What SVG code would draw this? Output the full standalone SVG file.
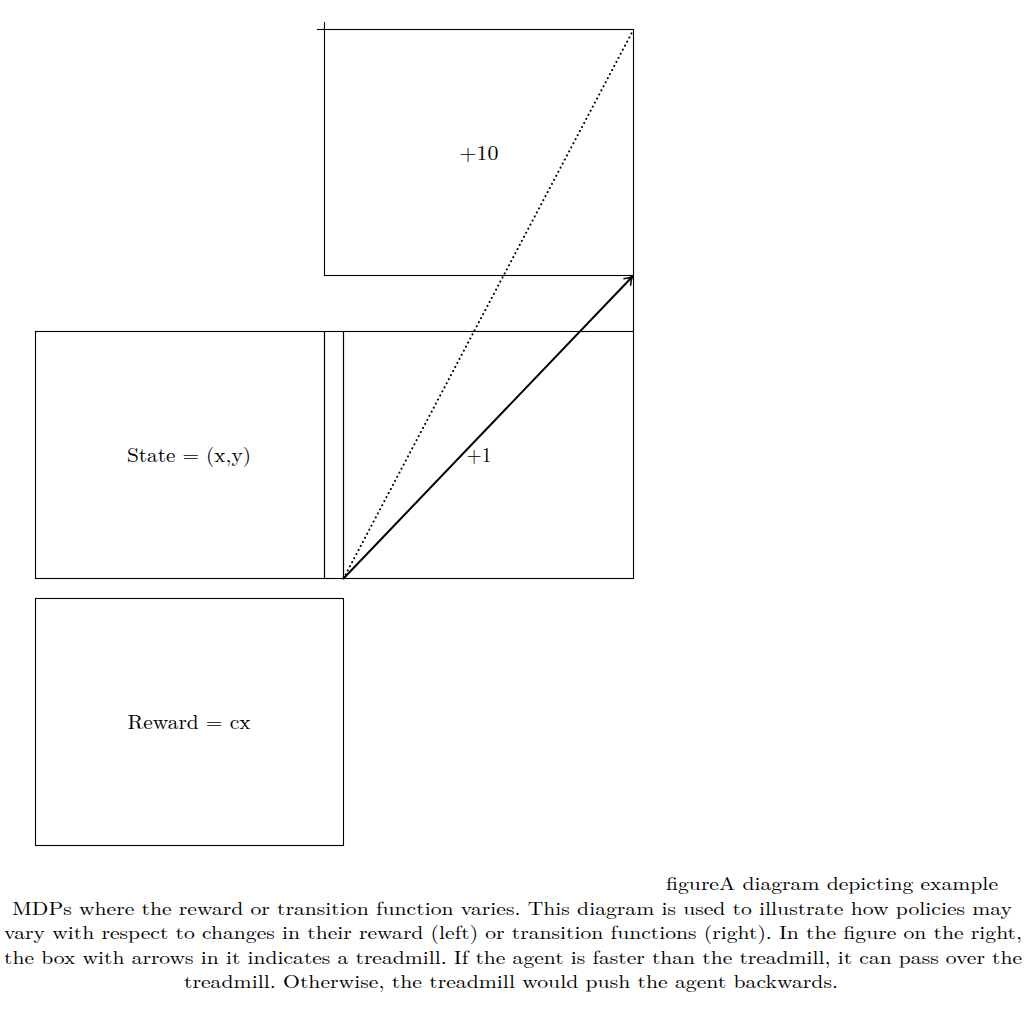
<svg xmlns="http://www.w3.org/2000/svg" width="1024" height="1024" viewBox="0 0 1024 1024">
<defs>
<style>
.box{fill:none;stroke:#000;stroke-width:1.1}
.lbl{font-family:"Latin Modern Roman","Liberation Serif","DejaVu Serif",serif;font-size:20px;fill:#000;text-anchor:middle}
.cap{font-family:"Latin Modern Roman","Liberation Serif","DejaVu Serif",serif;font-size:18.5px;fill:#000}
</style>
<marker id="arr" viewBox="0 0 12 12" refX="10" refY="6" markerWidth="12" markerHeight="12" markerUnits="userSpaceOnUse" orient="auto">
<path d="M2,1 Q6,4.5 10,6 Q6,7.5 2,11" fill="none" stroke="#000" stroke-width="1.5"/>
</marker>
</defs>
<rect width="1024" height="1024" fill="#fff"/>
<g id="goal-box">
<line class="box" x1="317" y1="29.5" x2="324.5" y2="29.5"/>
<line class="box" x1="324.5" y1="22" x2="324.5" y2="29.5"/>
<rect class="box" x="324.5" y="29.5" width="309" height="246"/>
<line class="box" x1="633.5" y1="275.5" x2="633.5" y2="331.5"/>
<text class="lbl" x="479" y="160" textLength="39" lengthAdjust="spacingAndGlyphs">+10</text>
</g>
<g id="state-box">
<rect class="box" x="35.5" y="331.5" width="289" height="247"/>
<text class="lbl" x="189" y="462" textLength="124" lengthAdjust="spacingAndGlyphs">State = (x,y)</text>
</g>
<g id="treadmill">
<rect class="box" x="324.5" y="331.5" width="19" height="247"/>
</g>
<g id="plus-one-box">
<rect class="box" x="343.5" y="331.5" width="290" height="247"/>
<text class="lbl" x="479" y="462" textLength="25" lengthAdjust="spacingAndGlyphs">+1</text>
</g>
<g id="reward-box">
<rect class="box" x="35.5" y="598.5" width="308" height="247"/>
<text class="lbl" x="189" y="729" textLength="123" lengthAdjust="spacingAndGlyphs">Reward = cx</text>
</g>
<g id="connectors">
<line x1="343.5" y1="578.5" x2="633.5" y2="29.5" stroke="#000" stroke-width="2" stroke-dasharray="0.1 4.5" stroke-linecap="round"/>
<line x1="343.5" y1="578.5" x2="632.5" y2="276.5" stroke="#000" stroke-width="2" marker-end="url(#arr)"/>
</g>
<g id="caption">
<text class="cap" x="666" y="890" textLength="332" lengthAdjust="spacingAndGlyphs">figureA diagram depicting example</text>
<text class="cap" x="12" y="914.5" textLength="1000" lengthAdjust="spacingAndGlyphs">MDPs where the reward or transition function varies. This diagram is used to illustrate how policies may</text>
<text class="cap" x="4" y="939" textLength="1018" lengthAdjust="spacingAndGlyphs">vary with respect to changes in their reward (left) or transition functions (right). In the figure on the right,</text>
<text class="cap" x="4" y="963.5" textLength="1018" lengthAdjust="spacingAndGlyphs">the box with arrows in it indicates a treadmill. If the agent is faster than the treadmill, it can pass over the</text>
<text class="cap" x="184" y="988" textLength="654" lengthAdjust="spacingAndGlyphs">treadmill. Otherwise, the treadmill would push the agent backwards.</text>
</g>
</svg>
